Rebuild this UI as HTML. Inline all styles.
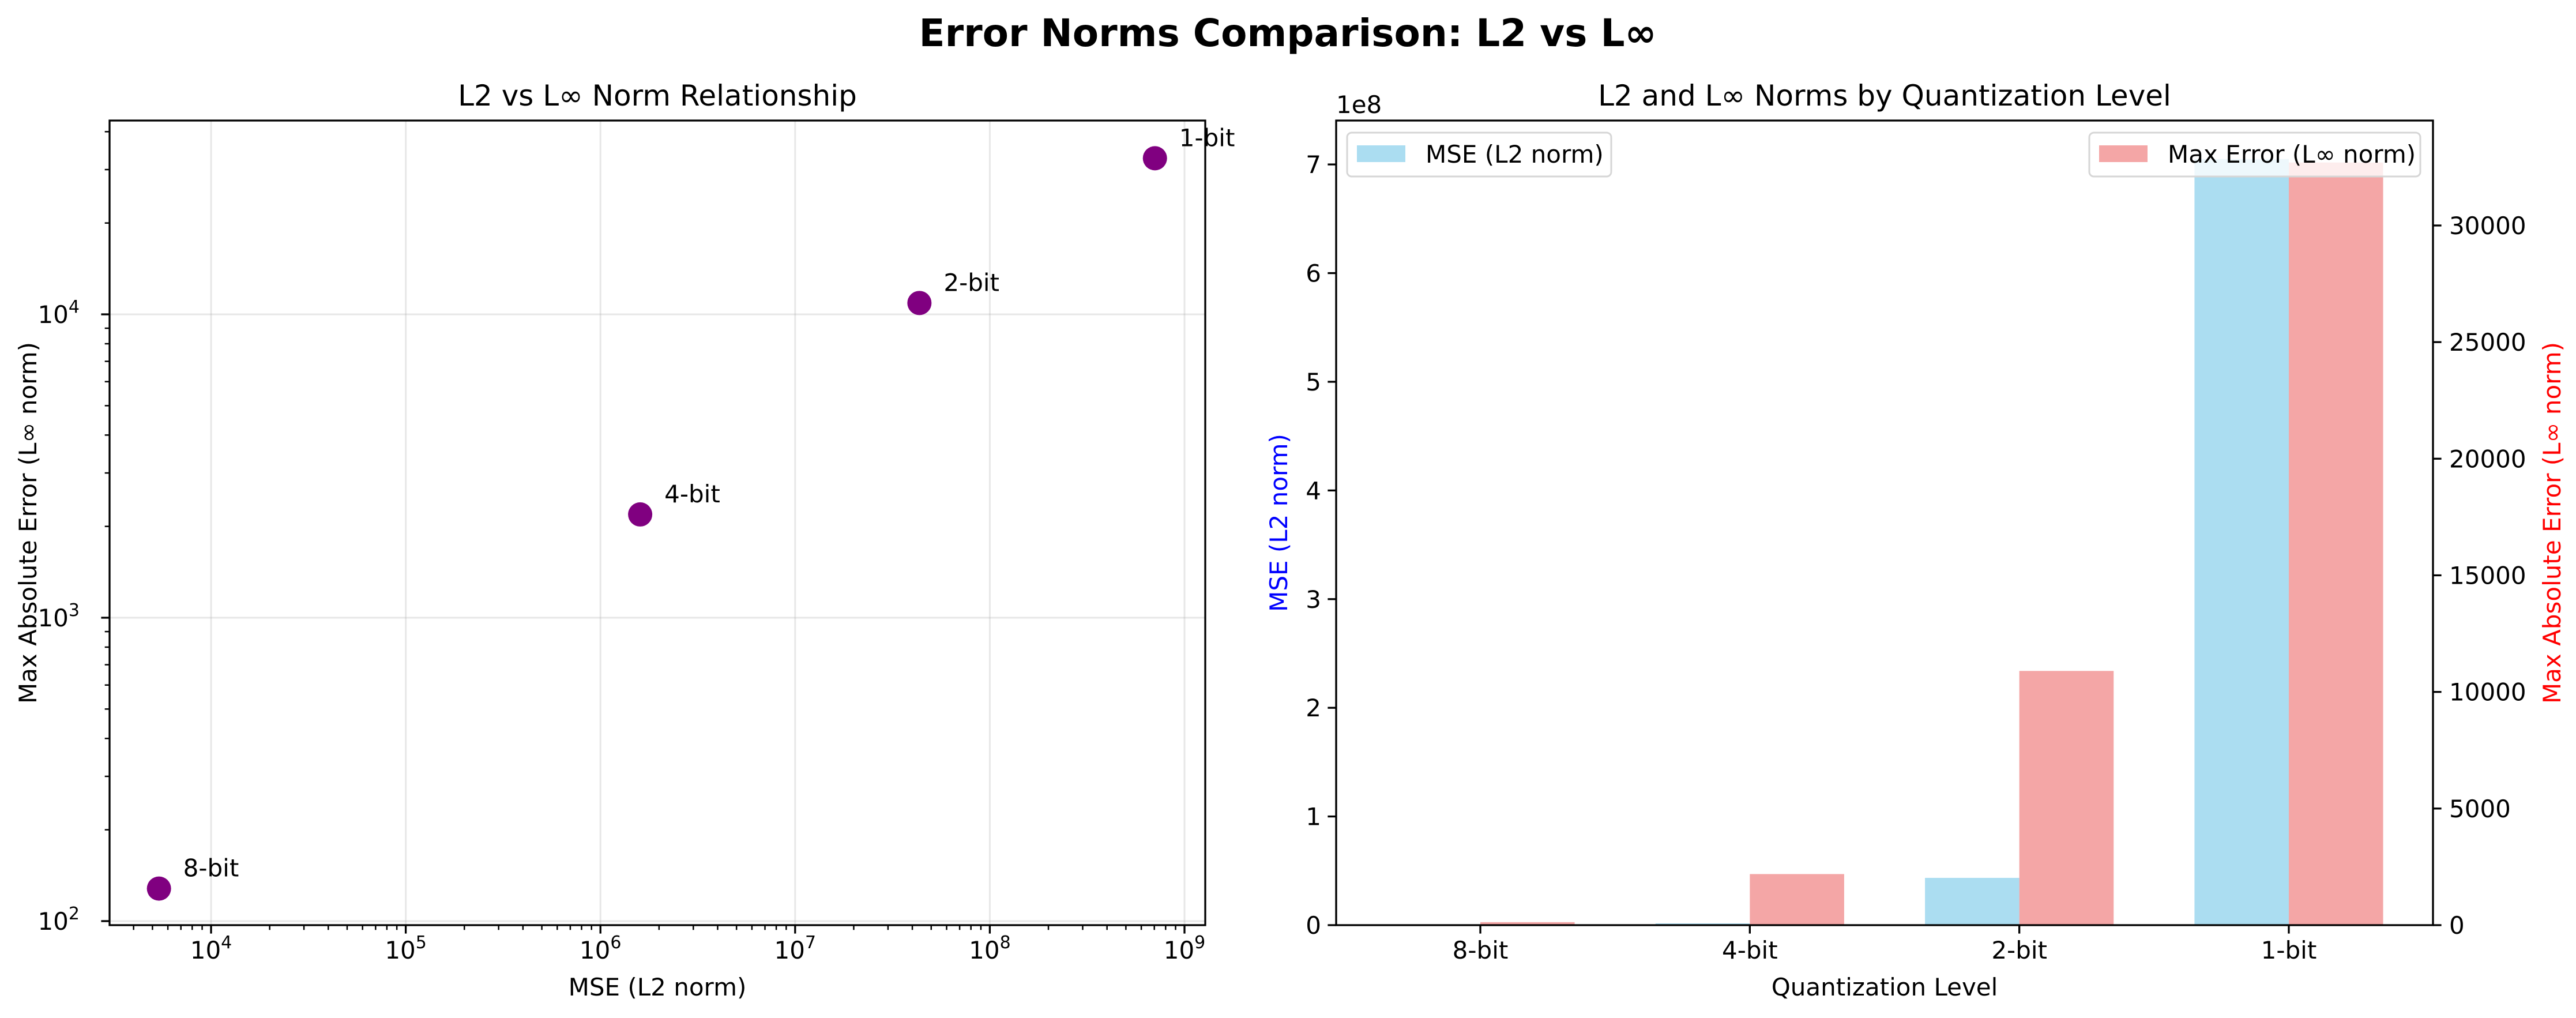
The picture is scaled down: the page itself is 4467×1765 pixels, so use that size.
<!DOCTYPE html>
<html><head><meta charset="utf-8"><style>
html,body{margin:0;padding:0;background:#fff;}
svg{display:block;font-family:"DejaVu Sans","Liberation Sans",sans-serif;}
</style></head><body>
<svg id="chart" width="4467" height="1765" viewBox="0 0 4467 1765" xmlns="http://www.w3.org/2000/svg">
<text x="2233" y="80" text-anchor="middle" font-size="66" font-weight="bold">Error Norms Comparison: L2 vs L∞</text>
<g id="left"></g>
<g id="right"></g>
</svg>
<script>
const levels = ["8-bit","4-bit","2-bit","1-bit"];
const mseValues = [5400, 1.6e6, 4.35e7, 7.05e8];
const maxErrValues = [128, 2190, 10900, 32700];
const xDecades = [4,5,6,7,8,9];
const yDecades = [2,3,4];
const leftTicks = [0,1,2,3,4,5,6,7];
const rightTicks = [0,5000,10000,15000,20000,25000,30000];

const NS="http://www.w3.org/2000/svg";
function mk(parent,tag,attrs,text){const e=document.createElementNS(NS,tag);for(const k in attrs)e.setAttribute(k,attrs[k]);if(text!==undefined)e.textContent=text;parent.appendChild(e);return e;}

// ---------- Left scatter ----------
const L=document.getElementById('left');
const lx0=190,lx1=2090,ly0=209,ly1=1604;
const xlogMin=4-(366-190)/337.6, xlogMax=4+(2090-366)/337.6;
const ylogMin=2-(1604-1597)/526, ylogMax=4+(545-209)/526;
const sx=v=>lx0+(Math.log10(v)-xlogMin)/(xlogMax-xlogMin)*(lx1-lx0);
const sy=v=>ly1-(Math.log10(v)-ylogMin)/(ylogMax-ylogMin)*(ly1-ly0);
mk(L,'text',{x:(lx0+lx1)/2,y:183,'text-anchor':'middle','font-size':50,},'L2 vs L∞ Norm Relationship');
xDecades.forEach(d=>{const x=sx(Math.pow(10,d));
 const g=mk(L,'line',{x1:x,x2:x,y1:ly0,y2:ly1,stroke:'#b0b0b0','stroke-opacity':0.3,'stroke-width':3});
 });
yDecades.forEach(d=>{const y=sy(Math.pow(10,d));
 const g=mk(L,'line',{x1:lx0,x2:lx1,y1:y,y2:y,stroke:'#b0b0b0','stroke-opacity':0.3,'stroke-width':3});
 });
for(let d=3;d<=9;d++){for(let m=2;m<=9;m++){const v=m*Math.pow(10,d);const x=sx(v);if(x<lx0||x>lx1)continue;
 mk(L,'line',{x1:x,x2:x,y1:ly1,y2:ly1+8.3,stroke:'#000','stroke-width':2.5});}}
for(let d=2;d<=4;d++){for(let m=2;m<=9;m++){const v=m*Math.pow(10,d);const y=sy(v);if(y<ly0||y>ly1)continue;
 mk(L,'line',{x1:lx0,x2:lx0-8.3,y1:y,y2:y,stroke:'#000','stroke-width':2.5});}}
xDecades.forEach(d=>{const x=sx(Math.pow(10,d));
 mk(L,'line',{x1:x,x2:x,y1:ly1,y2:ly1+14.6,stroke:'#000','stroke-width':3.3});
 const t=mk(L,'text',{x:x,y:1662,'text-anchor':'middle','font-size':42});
 
 mk(t,'tspan',{},'10');mk(t,'tspan',{dy:-18,'font-size':30},String(d));});
yDecades.forEach(d=>{const y=sy(Math.pow(10,d));
 mk(L,'line',{x1:lx0,x2:lx0-14.6,y1:y,y2:y,stroke:'#000','stroke-width':3.3});
 const t=mk(L,'text',{x:lx0-52,y:y+15,'text-anchor':'end','font-size':42});
 
 mk(t,'tspan',{},'10');mk(t,'tspan',{dy:-18,'font-size':30},String(d));});
levels.forEach((lv,i)=>{const x=sx(mseValues[i]),y=sy(maxErrValues[i]);
 const c=mk(L,'circle',{cx:x,cy:y,r:21,fill:'#800080'});
 
 const t=mk(L,'text',{x:x+42,y:y-21,'font-size':42},lv);
 });
mk(L,'rect',{x:lx0,y:ly0,width:lx1-lx0,height:ly1-ly0,fill:'none',stroke:'#000','stroke-width':3.3});
mk(L,'text',{x:(lx0+lx1)/2,y:1726,'text-anchor':'middle','font-size':42,},'MSE (L2 norm)');
mk(L,'text',{x:0,y:0,transform:'translate(63,'+((ly0+ly1)/2)+') rotate(-90)','text-anchor':'middle','font-size':42,},'Max Absolute Error (L∞ norm)');

// ---------- Right bars ----------
const R=document.getElementById('right');
const rx0=2317,rx1=4219,ry0=209,ry1=1604;
const xMin=-0.535,xMax=3.535;
const bx=v=>rx0+(v-xMin)/(xMax-xMin)*(rx1-rx0);
const lMax=7.404e8, rMax=34500;
const byL=v=>ry1-v/lMax*(ry1-ry0);
const byR=v=>ry1-v/rMax*(ry1-ry0);
const w=0.35;
mk(R,'text',{x:(rx0+rx1)/2,y:183,'text-anchor':'middle','font-size':50,},'L2 and L∞ Norms by Quantization Level');
levels.forEach((lv,i)=>{
 const xa=bx(i-w),xb=bx(i),xc=bx(i+w);
 const y1=byL(mseValues[i]);
 const r1=mk(R,'rect',{x:xa,y:y1,width:xb-xa,height:ry1-y1,fill:'#87ceeb','fill-opacity':0.7});
 
 const y2=byR(maxErrValues[i]);
 const r2=mk(R,'rect',{x:xb,y:y2,width:xc-xb,height:ry1-y2,fill:'#f08080','fill-opacity':0.7});
 
 mk(R,'line',{x1:xb,x2:xb,y1:ry1,y2:ry1+14.6,stroke:'#000','stroke-width':3.3});
 const t=mk(R,'text',{x:xb,y:1662,'text-anchor':'middle','font-size':42},lv);
 
});
leftTicks.forEach(v=>{const y=byL(v*1e8);
 mk(R,'line',{x1:rx0,x2:rx0-14.6,y1:y,y2:y,stroke:'#000','stroke-width':3.3});
 const t=mk(R,'text',{x:rx0-26,y:y+15,'text-anchor':'end','font-size':42},String(v));
 });
rightTicks.forEach(v=>{const y=byR(v);
 mk(R,'line',{x1:rx1,x2:rx1+14.6,y1:y,y2:y,stroke:'#000','stroke-width':3.3});
 const t=mk(R,'text',{x:rx1+28,y:y+15,'text-anchor':'start','font-size':42},String(v));
 });
mk(R,'text',{x:rx0,y:196,'font-size':42,},'1e8');
mk(R,'rect',{x:rx0,y:ry0,width:rx1-rx0,height:ry1-ry0,fill:'none',stroke:'#000','stroke-width':3.3});
mk(R,'text',{x:(rx0+rx1)/2,y:1726,'text-anchor':'middle','font-size':42,},'Quantization Level');
mk(R,'text',{x:0,y:0,transform:'translate(2232,'+((ry0+ry1)/2)+') rotate(-90)','text-anchor':'middle','font-size':42,fill:'#0000ff',},'MSE (L2 norm)');
mk(R,'text',{x:0,y:0,transform:'translate(4440,'+((ry0+ry1)/2)+') rotate(-90)','text-anchor':'middle','font-size':42,fill:'#ff0000',},'Max Absolute Error (L∞ norm)');
const lg1=mk(R,'g',{});
mk(lg1,'rect',{x:2336,y:230,width:458,height:76,rx:8,fill:'#fff','fill-opacity':0.8,stroke:'#d6d6d6','stroke-width':3});
mk(lg1,'rect',{x:2353,y:252,width:84,height:29,fill:'#87ceeb','fill-opacity':0.7});
mk(lg1,'text',{x:2472,y:282,'font-size':42},'MSE (L2 norm)');
const lg2=mk(R,'g',{});
mk(lg2,'rect',{x:3623,y:230,width:574,height:76,rx:8,fill:'#fff','fill-opacity':0.8,stroke:'#d6d6d6','stroke-width':3});
mk(lg2,'rect',{x:3640,y:252,width:84,height:29,fill:'#f08080','fill-opacity':0.7});
mk(lg2,'text',{x:3759,y:282,'font-size':42},'Max Error (L∞ norm)');
</script>
</body></html>
